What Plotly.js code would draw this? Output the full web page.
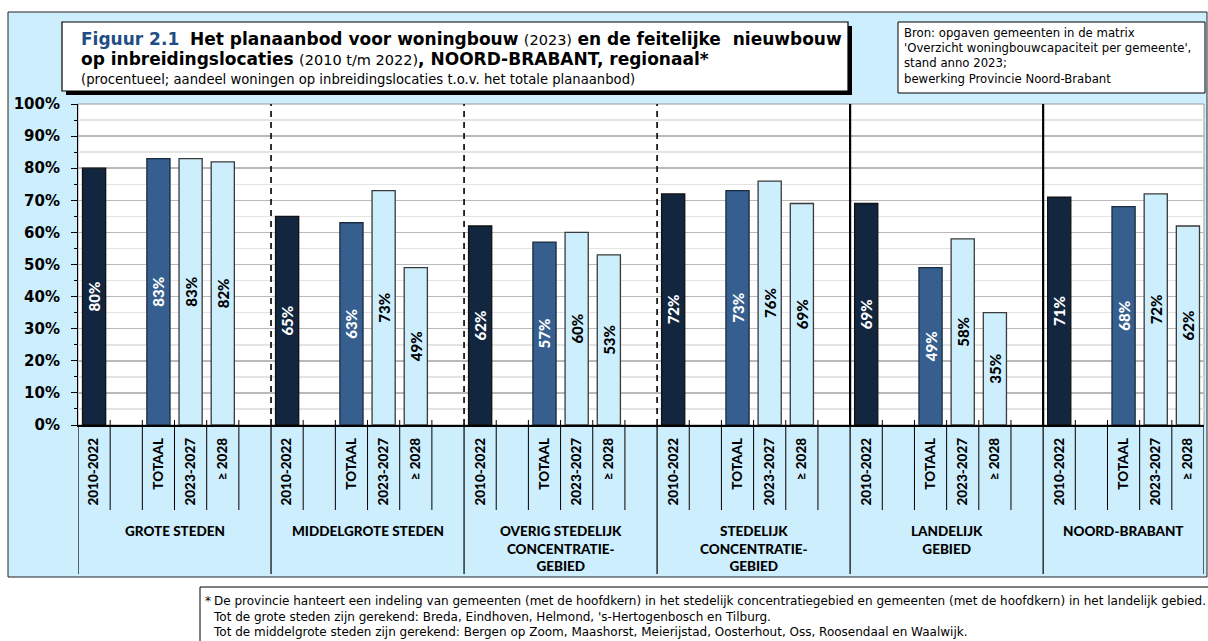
<!DOCTYPE html>
<html>
<head>
<meta charset="utf-8">
<script src="https://cdn.plot.ly/plotly-3.0.1.min.js"></script>
<style>
  html, body { margin: 0; padding: 0; background: #ffffff; }
  #chart { width: 1208px; height: 641px; }
</style>
</head>
<body>
<div id="chart"></div>
<script>
// ---- data -------------------------------------------------------------
const regions = [
  'GROTE STEDEN',
  'MIDDELGROTE STEDEN',
  'OVERIG STEDELIJK<br>CONCENTRATIE-<br>GEBIED',
  'STEDELIJK<br>CONCENTRATIE-<br>GEBIED',
  'LANDELIJK<br>GEBIED',
  'NOORD-BRABANT'
];
const periods = ['2010-2022', 'TOTAAL', '2023-2027', '\u2265 2028'];

// share of dwellings on infill locations (%)
const built2010_2022 = [80, 65, 62, 72, 69, 71];
const planTotal      = [83, 63, 57, 73, 49, 68];
const plan2023_2027  = [83, 73, 60, 76, 58, 72];
const plan2028plus   = [82, 49, 53, 69, 35, 62];

const yTickValues = [0, 10, 20, 30, 40, 50, 60, 70, 80, 90, 100];

// ---- layout helpers ---------------------------------------------------
const FONT = 'Lato, "DejaVu Sans", sans-serif';
const WIDE = '"DejaVu Sans", sans-serif';
const W = 1208, H = 641;
const PL = 78, PR = 1204, PT = 104, PB = 425;       // plot area in pixels
const px = p => (p - PL) / (PR - PL);               // pixel x -> paper x
const py = p => (PB - p) / (PB - PT);               // pixel y -> paper y

const SLOTS_PER_GROUP = 6;                          // bar, gap, bar, bar, bar, gap
const slotOffset = [0, 2, 3, 4];                    // slot of each period in a group
const lastSlot = SLOTS_PER_GROUP * (regions.length - 1) + 4;

const series = [built2010_2022, planTotal, plan2023_2027, plan2028plus];
const fills  = ['#13263f', '#365f8f', '#cdeefd', '#cdeefd'];
const lines  = ['#111111', '#1c2c40', '#3a3a3a', '#3a3a3a'];
const inks   = ['#ffffff', '#ffffff', '#000000', '#000000'];

const traces = series.map((vals, s) => ({
  type: 'bar',
  x: vals.map((_, g) => g * SLOTS_PER_GROUP + slotOffset[s]),
  y: vals,
  width: 0.72,
  name: periods[s],
  marker: { color: fills[s], line: { color: lines[s], width: 1.3 } },
  text: vals.map(v => v + '%'),
  textposition: 'inside',
  insidetextanchor: 'middle',
  textangle: -90,
  constraintext: 'none',
  textfont: { family: FONT, size: 15, color: inks[s], weight: 900 },
  hoverinfo: 'skip',
  showlegend: false
}));

// category tick labels
const tickvals = [], ticktext = [];
regions.forEach((_, g) => {
  periods.forEach((p, s) => {
    tickvals.push(g * SLOTS_PER_GROUP + slotOffset[s]);
    ticktext.push(p);
  });
});

// ---- shapes -----------------------------------------------------------
const shapes = [];
// light blue chart panel
shapes.push({ type: 'rect', xref: 'paper', yref: 'paper', layer: 'below',
  x0: px(8), x1: px(1207), y0: py(577), y1: py(12),
  fillcolor: '#cdeefd', line: { color: '#222222', width: 1 } });
// white plotting area
shapes.push({ type: 'rect', xref: 'paper', yref: 'paper', layer: 'below',
  x0: 0, x1: 1, y0: 0, y1: 1,
  fillcolor: '#ffffff', line: { color: '#9a9a9a', width: 1 } });
// title box with shadow
shapes.push({ type: 'rect', xref: 'paper', yref: 'paper', layer: 'above',
  x0: px(66), x1: px(852), y0: py(95), y1: py(26),
  fillcolor: '#000000', line: { width: 0 } });
shapes.push({ type: 'rect', xref: 'paper', yref: 'paper', layer: 'above',
  x0: px(62), x1: px(848), y0: py(91), y1: py(22),
  fillcolor: '#ffffff', line: { color: '#000000', width: 1.2 } });
// source box
shapes.push({ type: 'rect', xref: 'paper', yref: 'paper', layer: 'above',
  x0: px(898), x1: px(1205), y0: py(93), y1: py(22),
  fillcolor: '#ffffff', line: { color: '#000000', width: 1 } });
// footnote frame
shapes.push({ type: 'line', xref: 'paper', yref: 'paper', layer: 'above',
  x0: px(200), x1: px(1210), y0: py(587), y1: py(587),
  line: { color: '#000000', width: 1 } });
shapes.push({ type: 'line', xref: 'paper', yref: 'paper', layer: 'above',
  x0: px(200), x1: px(200), y0: py(587), y1: py(645),
  line: { color: '#000000', width: 1 } });

// group separators: dashed / solid through the plot, solid below the axis
const groupEdges = [];
for (let g = 0; g <= regions.length - 1; g++) groupEdges.push(g * SLOTS_PER_GROUP - 0.5);
groupEdges.push(lastSlot + 0.5);
groupEdges.forEach((xe, i) => {
  shapes.push({ type: 'line', xref: 'x', yref: 'paper', layer: 'above',
    x0: xe, x1: xe, y0: py(574), y1: 0,
    line: { color: '#000000', width: 1.2 } });
  if (i >= 1 && i <= 3) {
    shapes.push({ type: 'line', xref: 'x', yref: 'paper', layer: 'above',
      x0: xe, x1: xe, y0: 0, y1: 1,
      line: { color: '#000000', width: 1.6, dash: '6px,5px' } });
  } else if (i === 4 || i === 5) {
    shapes.push({ type: 'line', xref: 'x', yref: 'paper', layer: 'above',
      x0: xe, x1: xe, y0: 0, y1: 1,
      line: { color: '#000000', width: 2.2 } });
  }
});
// slot separators in the category row
for (let k = 0; k < lastSlot; k++) {
  const xe = k + 0.5;
  if ((k + 1) % SLOTS_PER_GROUP === 0) continue;
  shapes.push({ type: 'line', xref: 'x', yref: 'paper', layer: 'above',
    x0: xe, x1: xe, y0: py(510), y1: py(420),
    line: { color: '#000000', width: 1 } });
}

// ---- annotations ------------------------------------------------------
const annotations = [];
const groupCenter = g => g === regions.length - 1
  ? (g * SLOTS_PER_GROUP + lastSlot) / 2
  : g * SLOTS_PER_GROUP + 2.5;
regions.forEach((r, g) => {
  annotations.push({ xref: 'x', yref: 'paper', x: groupCenter(g), y: py(521),
    xanchor: 'center', yanchor: 'top', showarrow: false, align: 'center',
    text: r,
    font: { family: FONT, size: 13.5, color: '#000000', weight: 900 } });
});

// title lines
annotations.push({ xref: 'paper', yref: 'paper', x: px(79), y: py(39),
  xanchor: 'left', yanchor: 'middle', showarrow: false, align: 'left',
  text: "<span style='color:#1f4e84'><b>Figuur 2.1</b></span>  <b>Het planaanbod voor woningbouw</b> <span style='font-size:14.5px'>(2023)</span> <b>en de feitelijke  nieuwbouw</b>",
  font: { family: WIDE, size: 17, color: '#000000' } });
annotations.push({ xref: 'paper', yref: 'paper', x: px(79), y: py(59),
  xanchor: 'left', yanchor: 'middle', showarrow: false, align: 'left',
  text: "<b>op inbreidingslocaties</b> <span style='font-size:14.5px'>(2010 t/m 2022)</span><b>, NOORD-BRABANT, regionaal*</b>",
  font: { family: WIDE, size: 17, color: '#000000' } });
annotations.push({ xref: 'paper', yref: 'paper', x: px(79), y: py(79),
  xanchor: 'left', yanchor: 'middle', showarrow: false, align: 'left',
  text: '(procentueel; aandeel woningen op inbreidingslocaties t.o.v. het totale planaanbod)',
  font: { family: WIDE, size: 13.2, color: '#000000' } });

// source note
annotations.push({ xref: 'paper', yref: 'paper', x: px(902), y: py(24),
  xanchor: 'left', yanchor: 'top', showarrow: false, align: 'left',
  text: "Bron: opgaven gemeenten in de matrix<br>'Overzicht woningbouwcapaciteit per gemeente',<br>stand anno 2023;<br>bewerking Provincie Noord-Brabant",
  font: { family: WIDE, size: 11.7, color: '#000000' } });

// footnote
annotations.push({ xref: 'paper', yref: 'paper', x: px(203), y: py(592),
  xanchor: 'left', yanchor: 'top', showarrow: false, align: 'left',
  text: '*', font: { family: WIDE, size: 12, color: '#000000' } });
annotations.push({ xref: 'paper', yref: 'paper', x: px(211), y: py(592),
  xanchor: 'left', yanchor: 'top', showarrow: false, align: 'left',
  text: 'De provincie hanteert een indeling van gemeenten (met de hoofdkern) in het stedelijk concentratiegebied en gemeenten (met de hoofdkern) in het landelijk gebied.<br>' +
        "Tot de grote steden zijn gerekend: Breda, Eindhoven, Helmond, 's-Hertogenbosch en Tilburg.<br>" +
        'Tot de middelgrote steden zijn gerekend: Bergen op Zoom, Maashorst, Meierijstad, Oosterhout, Oss, Roosendaal en Waalwijk.',
  font: { family: WIDE, size: 12, color: '#000000' } });

// ---- layout -----------------------------------------------------------
const layout = {
  width: W, height: H,
  margin: { l: PL, r: W - PR, t: PT, b: H - PB },
  paper_bgcolor: '#ffffff',
  plot_bgcolor: 'rgba(0,0,0,0)',
  barmode: 'overlay',
  font: { family: FONT, color: '#000000' },
  xaxis: {
    range: [-0.5, lastSlot + 0.5],
    tickmode: 'array', tickvals: tickvals, ticktext: ticktext,
    tickangle: -90,
    tickfont: { family: FONT, size: 13.5, color: '#000000', weight: 900 },
    ticks: '', ticklabelstandoff: 6,
    showgrid: false, zeroline: false,
    showline: true, linecolor: '#000000', linewidth: 1.5,
    fixedrange: true
  },
  yaxis: {
    range: [0, 100],
    tickmode: 'array', tickvals: yTickValues, ticktext: yTickValues.map(v => v + '%'),
    tickfont: { family: WIDE, size: 15, color: '#000000', weight: 'bold' },
    ticks: 'outside', ticklen: 6, tickcolor: '#000000', tickwidth: 1,
    ticklabelstandoff: 8,
    showgrid: true, gridcolor: '#b9b9b9', gridwidth: 1.5,
    minor: { dtick: 5, showgrid: true, gridcolor: '#e4e4e4', gridwidth: 1.5,
             ticks: 'outside', ticklen: 3, tickcolor: '#000000' },
    zeroline: false,
    showline: true, linecolor: '#000000', linewidth: 1,
    fixedrange: true
  },
  shapes: shapes,
  annotations: annotations
};

Plotly.newPlot('chart', traces, layout, { displayModeBar: false, staticPlot: true });
</script>
</body>
</html>
